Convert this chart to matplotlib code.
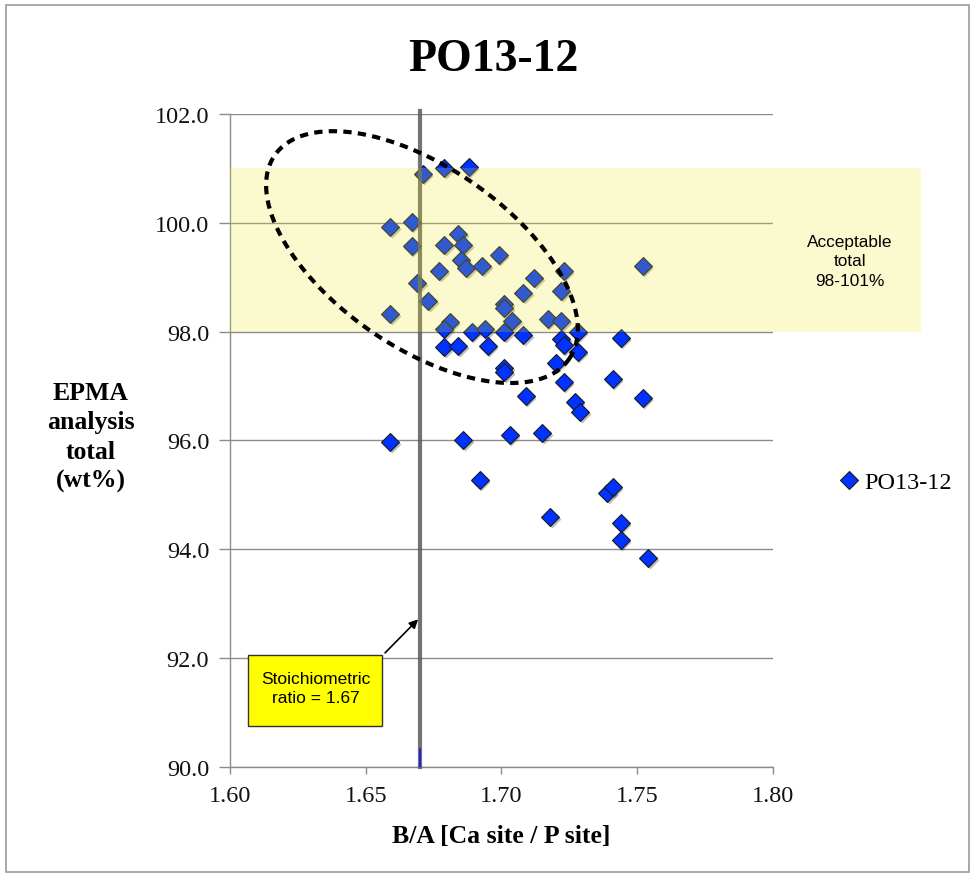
import numpy as np
import matplotlib.pyplot as plt
from matplotlib.patches import Rectangle
from matplotlib import transforms

# B/A ratio vs EPMA total
ba_ratio = [1.671, 1.679, 1.688, 1.659, 1.667, 1.667, 1.684, 1.679, 1.686, 1.685,
            1.687, 1.677, 1.693, 1.699, 1.669, 1.673, 1.701, 1.701, 1.708, 1.712,
            1.723, 1.722, 1.752, 1.659, 1.681, 1.679, 1.689, 1.694, 1.701, 1.708,
            1.704, 1.717, 1.722, 1.728, 1.722, 1.723, 1.728, 1.744, 1.679, 1.684,
            1.695, 1.720, 1.701, 1.701, 1.741, 1.723, 1.709, 1.727, 1.729, 1.752,
            1.703, 1.715, 1.659, 1.686, 1.692, 1.739, 1.741, 1.718, 1.744, 1.744,
            1.754]
epma_total = [100.90, 101.01, 101.03, 99.92, 100.01, 99.57, 99.79, 99.59, 99.59, 99.32,
              99.17, 99.11, 99.21, 99.41, 98.89, 98.56, 98.51, 98.43, 98.71, 98.99,
              99.11, 98.75, 99.21, 98.32, 98.18, 98.05, 97.99, 98.05, 97.99, 97.94,
              98.20, 98.23, 98.20, 97.99, 97.86, 97.75, 97.63, 97.88, 97.72, 97.74,
              97.74, 97.42, 97.33, 97.26, 97.13, 97.07, 96.82, 96.71, 96.52, 96.78,
              96.10, 96.14, 95.97, 96.01, 95.27, 95.03, 95.15, 94.59, 94.48, 94.17,
              93.84]
series_name = 'PO13-12'
stoich_ratio = 1.67
accept_low, accept_high = 98.0, 101.0
x_ticks = [1.60, 1.65, 1.70, 1.75, 1.80]
y_ticks = [90, 92, 94, 96, 98, 100, 102]

serif = 'Liberation Serif'
sans = 'Liberation Sans'

fig = plt.figure(figsize=(9.75, 8.79), dpi=100)
ax = fig.add_axes([0.2359, 0.1263, 0.5569, 0.7429])
ax.set_xlim(1.60, 1.80)
ax.set_ylim(90, 102)

# grid + spines
ax.set_yticks(y_ticks)
ax.set_xticks(x_ticks)
ax.yaxis.grid(True, color='#8c8c8c', lw=1.0, zorder=0)
ax.set_axisbelow(True)
for s in ['top', 'right']:
    ax.spines[s].set_visible(False)
for s in ['left', 'bottom']:
    ax.spines[s].set_color('#8c8c8c')
    ax.spines[s].set_linewidth(1.0)
ax.tick_params(axis='y', colors='#8c8c8c', length=8, width=1.0, direction='out', pad=7)
ax.tick_params(axis='x', colors='#8c8c8c', length=5, width=1.0, direction='out', pad=8)
ax.tick_params(axis='both', labelcolor='#111111', labelsize=17.5)
ax.set_xticklabels(['%.2f' % t for t in x_ticks], fontfamily=serif)
ax.set_yticklabels(['%.1f' % t for t in y_ticks], fontfamily=serif)

# shadow + markers
shadow = transforms.offset_copy(ax.transData, fig=fig, x=1.5, y=-2, units='dots')
ax.plot(ba_ratio, epma_total, 'D', ms=8.8, color='#000000', alpha=0.25, mec='none',
        transform=shadow, zorder=2)
ax.plot(ba_ratio, epma_total, 'D', ms=8.8, color='#0033ff', mec='#1a1a1a', mew=0.8,
        zorder=2, label=series_name)

# stoichiometric line
ax.axvline(stoich_ratio, ymin=0, ymax=1.004, color='#5a5a5a', alpha=0.85, lw=3.0, zorder=3,
           clip_on=False)
ax.plot([stoich_ratio, stoich_ratio], [90, 90.33], color='#1010ff', lw=1.2, zorder=4)

# acceptable band, overlaid semi-transparent
ax.add_patch(Rectangle((1.60, accept_low), 0.2545, accept_high - accept_low,
                       facecolor='#eeec1f', alpha=0.21, edgecolor='none',
                       zorder=3, clip_on=False))
ax.text(1.8284, 99.30, 'Acceptable\ntotal\n98-101%', ha='center', va='center',
        fontsize=12.4, fontfamily=sans, linespacing=1.35, zorder=5)

# dashed ellipse drawn in screen space
pos = ax.get_position()
ppx = pos.width * fig.get_figwidth() * fig.dpi / 0.2
ppy = pos.height * fig.get_figheight() * fig.dpi / 12.0
t = np.linspace(0, 2 * np.pi, 400)
a, b, ang = 179, 90, np.deg2rad(-34.7)
u, v = a * np.cos(t), b * np.sin(t)
ex = 1.6707 + (u * np.cos(ang) - v * np.sin(ang)) / ppx
ey = 99.37 + (u * np.sin(ang) + v * np.cos(ang)) / ppy
ax.plot(ex, ey, color='black', lw=3, ls=(0, (2, 1.5)), zorder=5, clip_on=False)

# stoichiometric label box + arrow
ax.add_patch(Rectangle((1.6066, 90.75), 0.0494, 1.31, facecolor='#ffff00',
                       edgecolor='#333333', lw=1, zorder=5))
ax.text(1.6315, 91.45, 'Stoichiometric\nratio = 1.67', ha='center', va='center',
        fontsize=12.5, fontfamily=sans, linespacing=1.35, zorder=6)
ax.annotate('', xy=(stoich_ratio, 92.75), xytext=(1.6564, 92.06),
            arrowprops=dict(arrowstyle='-|>', color='black', lw=1.2, mutation_scale=13),
            zorder=6)

# labels
fig.text(0.506, 0.932, series_name, ha='center', va='center', fontsize=33,
         fontweight='bold', fontfamily=serif)
ax.set_xlabel('B/A [Ca site / P site]', fontsize=18.5, fontweight='bold',
              fontfamily=serif, labelpad=13)
fig.text(0.093, 0.502, 'EPMA\nanalysis\ntotal\n(wt%)', ha='center', va='center',
         fontsize=18.5, fontweight='bold', fontfamily=serif, linespacing=1.35)

leg = ax.legend(loc='center left', bbox_to_anchor=(1.078, 0.436), frameon=False,
                handletextpad=0.1, handlelength=1.0, borderpad=0.4,
                prop={'family': serif, 'size': 17.5})

# outer frame
fig.add_artist(Rectangle((0.006, 0.007), 0.988, 0.986, transform=fig.transFigure,
                         fill=False, edgecolor='#999999', lw=1.2))

fig.savefig('out.png', dpi=100)
